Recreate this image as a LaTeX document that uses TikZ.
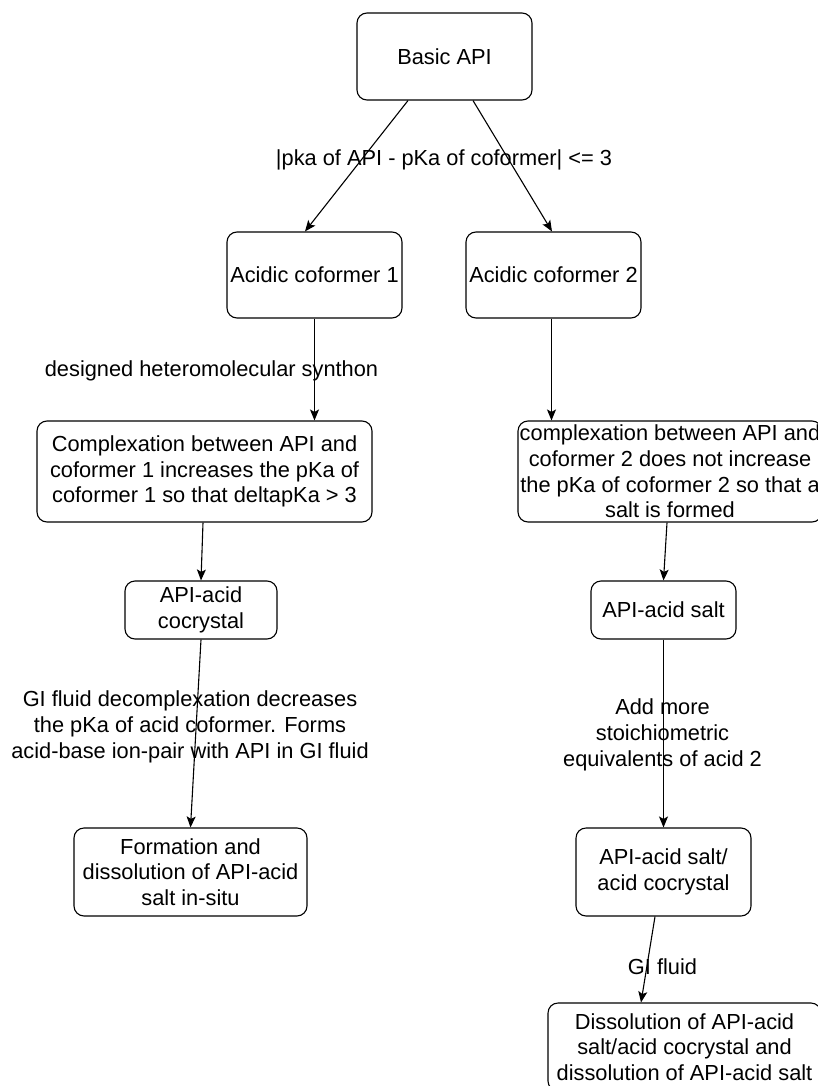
\documentclass[tikz,border=0pt]{standalone}
\usepackage{fontspec}
\setmainfont{Liberation Sans}
\usetikzlibrary{positioning, arrows.meta}

\begin{document}
\begin{tikzpicture}[
    x=1pt, y=-1pt,
    ->, >={Stealth[length=11pt, width=9pt, inset=2.5pt]}, line width=1.1pt,
    every node/.style={font=\fontsize{21.8}{25.8}\selectfont, align=center, inner sep=0pt},
    stage/.style 2 args={draw, rounded corners=10pt, minimum width=#1pt, minimum height=#2pt},
    note/.style={}
]
    \useasboundingbox (0,0) rectangle (817,1086);

    % boxes
    \node[stage={175}{87}]  (api)    at (444.5,56.5) {Basic API};
    \node[stage={175}{86}]  (co1)    at (314.5,275)  {Acidic coformer 1};
    \node[stage={175}{86}]  (co2)    at (553.5,275)  {Acidic coformer 2};
    \node[stage={335}{101}] (cplx1)  at (204.5,471.5) {Complexation between API and\\coformer 1 increases the pKa of\\coformer 1 so that deltapKa > 3};
    \node[stage={304}{101}] (cplx2)  at (670,471.5)  {complexation between API and\\coformer 2 does not increase\\the pKa of coformer 2 so that a\\salt is formed};
    \node[stage={152}{58}]  (cocry)  at (201,610)    {API-acid\\cocrystal};
    \node[stage={145}{58}]  (salt)   at (663.5,610)  {API-acid salt};
    \node[stage={233}{88}]  (insitu) at (190.5,872)  {Formation and\\dissolution of API-acid\\salt in-situ};
    \node[stage={175}{88}]  (mixed)  at (663.5,872)  {API-acid salt/\\acid cocrystal};
    \node[stage={273}{88}]  (diss)   at (684.5,1047) {Dissolution of API-acid\\salt/acid cocrystal and\\dissolution of API-acid salt};

    % labels
    \node[note] (lpka)    at (444,160)   {|pka of API - pKa of coformer| <= 3};
    \node[note] (lsyn)    at (211.5,371) {designed heteromolecular synthon};
    \node[note] (lgi)     at (190,727)   {GI fluid decomplexation decreases\\the pKa of acid coformer. Forms\\acid-base ion-pair with API in GI fluid};
    \node[note] (lstoich) at (662.5,735) {Add more\\stoichiometric\\equivalents of acid 2};
    \node[note] (lgi2)    at (662.5,967) {GI fluid};

    % connectors
    \draw ([xshift=-36.5pt]api.south) -- ([xshift=-9.5pt]co1.north);
    \draw ([xshift=28.5pt]api.south)  -- ([xshift=-1.5pt]co2.north);
    \draw (co1.south) -- (co1.south |- cplx1.north);
    \draw ([xshift=-2pt]co2.south) -- ([xshift=-2pt]co2.south |- cplx2.north);
    \draw ([xshift=-1.5pt]cplx1.south) -- (cocry.north);
    \draw ([xshift=-3pt]cplx2.south) -- (salt.north);
    \draw (cocry.south) -- (insitu.north);
    \draw (salt.south) -- (mixed.north);
    \draw ([xshift=-8.5pt]mixed.south) -- ([xshift=-43.5pt]diss.north);
\end{tikzpicture}
\end{document}
